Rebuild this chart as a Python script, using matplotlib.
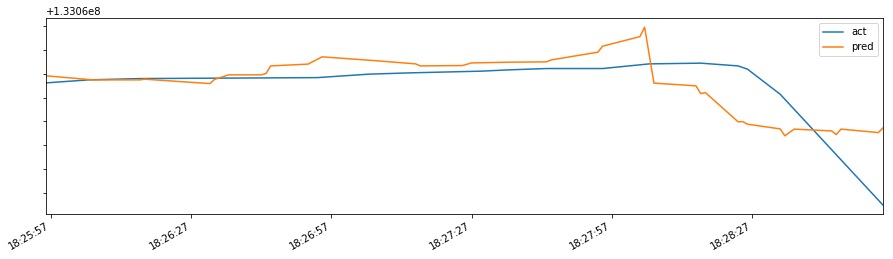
import matplotlib
matplotlib.use("Agg")
import matplotlib.pyplot as plt
import matplotlib.dates as mdates
import matplotlib.ticker as mticker
import pandas as pd

day = "2019-01-01 "

act_times = ["18:25:56", "18:26:05", "18:26:16", "18:26:54", "18:27:05", "18:27:14",
             "18:27:29", "18:27:35", "18:27:43", "18:27:55", "18:28:05", "18:28:16",
             "18:28:24", "18:28:26", "18:28:33", "18:28:55"]
act_vals = [133061123, 133061148, 133061159, 133061167, 133061196, 133061207,
            133061221, 133061232, 133061243, 133061243, 133061282, 133061288,
            133061265, 133061238, 133061028, 133060100]

pred_times = ["18:25:56", "18:26:06", "18:26:16", "18:26:17", "18:26:31", "18:26:32",
              "18:26:35", "18:26:42", "18:26:43", "18:26:44", "18:26:52", "18:26:55",
              "18:27:07", "18:27:15", "18:27:16", "18:27:25", "18:27:27", "18:27:35",
              "18:27:43", "18:27:44", "18:27:54", "18:27:55", "18:28:03", "18:28:04",
              "18:28:06", "18:28:15", "18:28:16", "18:28:17", "18:28:24", "18:28:25",
              "18:28:26", "18:28:33", "18:28:34", "18:28:36", "18:28:44", "18:28:45",
              "18:28:46", "18:28:54", "18:28:55"]
pred_vals = [133061182, 133061148, 133061148, 133061154, 133061117, 133061152,
             133061190, 133061190, 133061201, 133061265, 133061280, 133061341,
             133061307, 133061282, 133061265, 133061268, 133061290, 133061296,
             133061299, 133061315, 133061380, 133061430, 133061510, 133061589,
             133061121, 133061098, 133061033, 133061042, 133060797, 133060799,
             133060777, 133060738, 133060680, 133060736, 133060721, 133060690,
             133060736, 133060707, 133060746]

series_labels = ["act", "pred"]

ta = pd.to_datetime([day + t for t in act_times])
tp = pd.to_datetime([day + t for t in pred_times])

fig = plt.figure(figsize=(893 / 72, 259 / 72), dpi=72)
ax = fig.add_axes([46.3 / 893, 1 - 214 / 259, (883 - 46.3) / 893, (214 - 18.3) / 259])

ax.plot(ta, act_vals, color="#1f77b4", lw=1.5, label=series_labels[0])
ax.plot(tp, pred_vals, color="#ff7f0e", lw=1.5, label=series_labels[1])

ax.set_xlim(ta[0], ta[-1])
ax.xaxis.set_major_locator(mdates.SecondLocator(bysecond=[27, 57]))
ax.xaxis.set_major_formatter(mdates.DateFormatter("%H:%M:%S"))
for lbl in ax.get_xticklabels():
    lbl.set_rotation(30)
    lbl.set_ha("right")
ax.tick_params(axis="x", labelrotation=30)
plt.setp(ax.get_xticklabels(), ha="right")

ax.yaxis.set_major_locator(mticker.MultipleLocator(200))
ax.tick_params(axis="y", labelcolor="none")
ax.yaxis.get_offset_text().set_color("black")

ax.legend(loc="upper right")

fig.savefig("out.png", dpi=72)
